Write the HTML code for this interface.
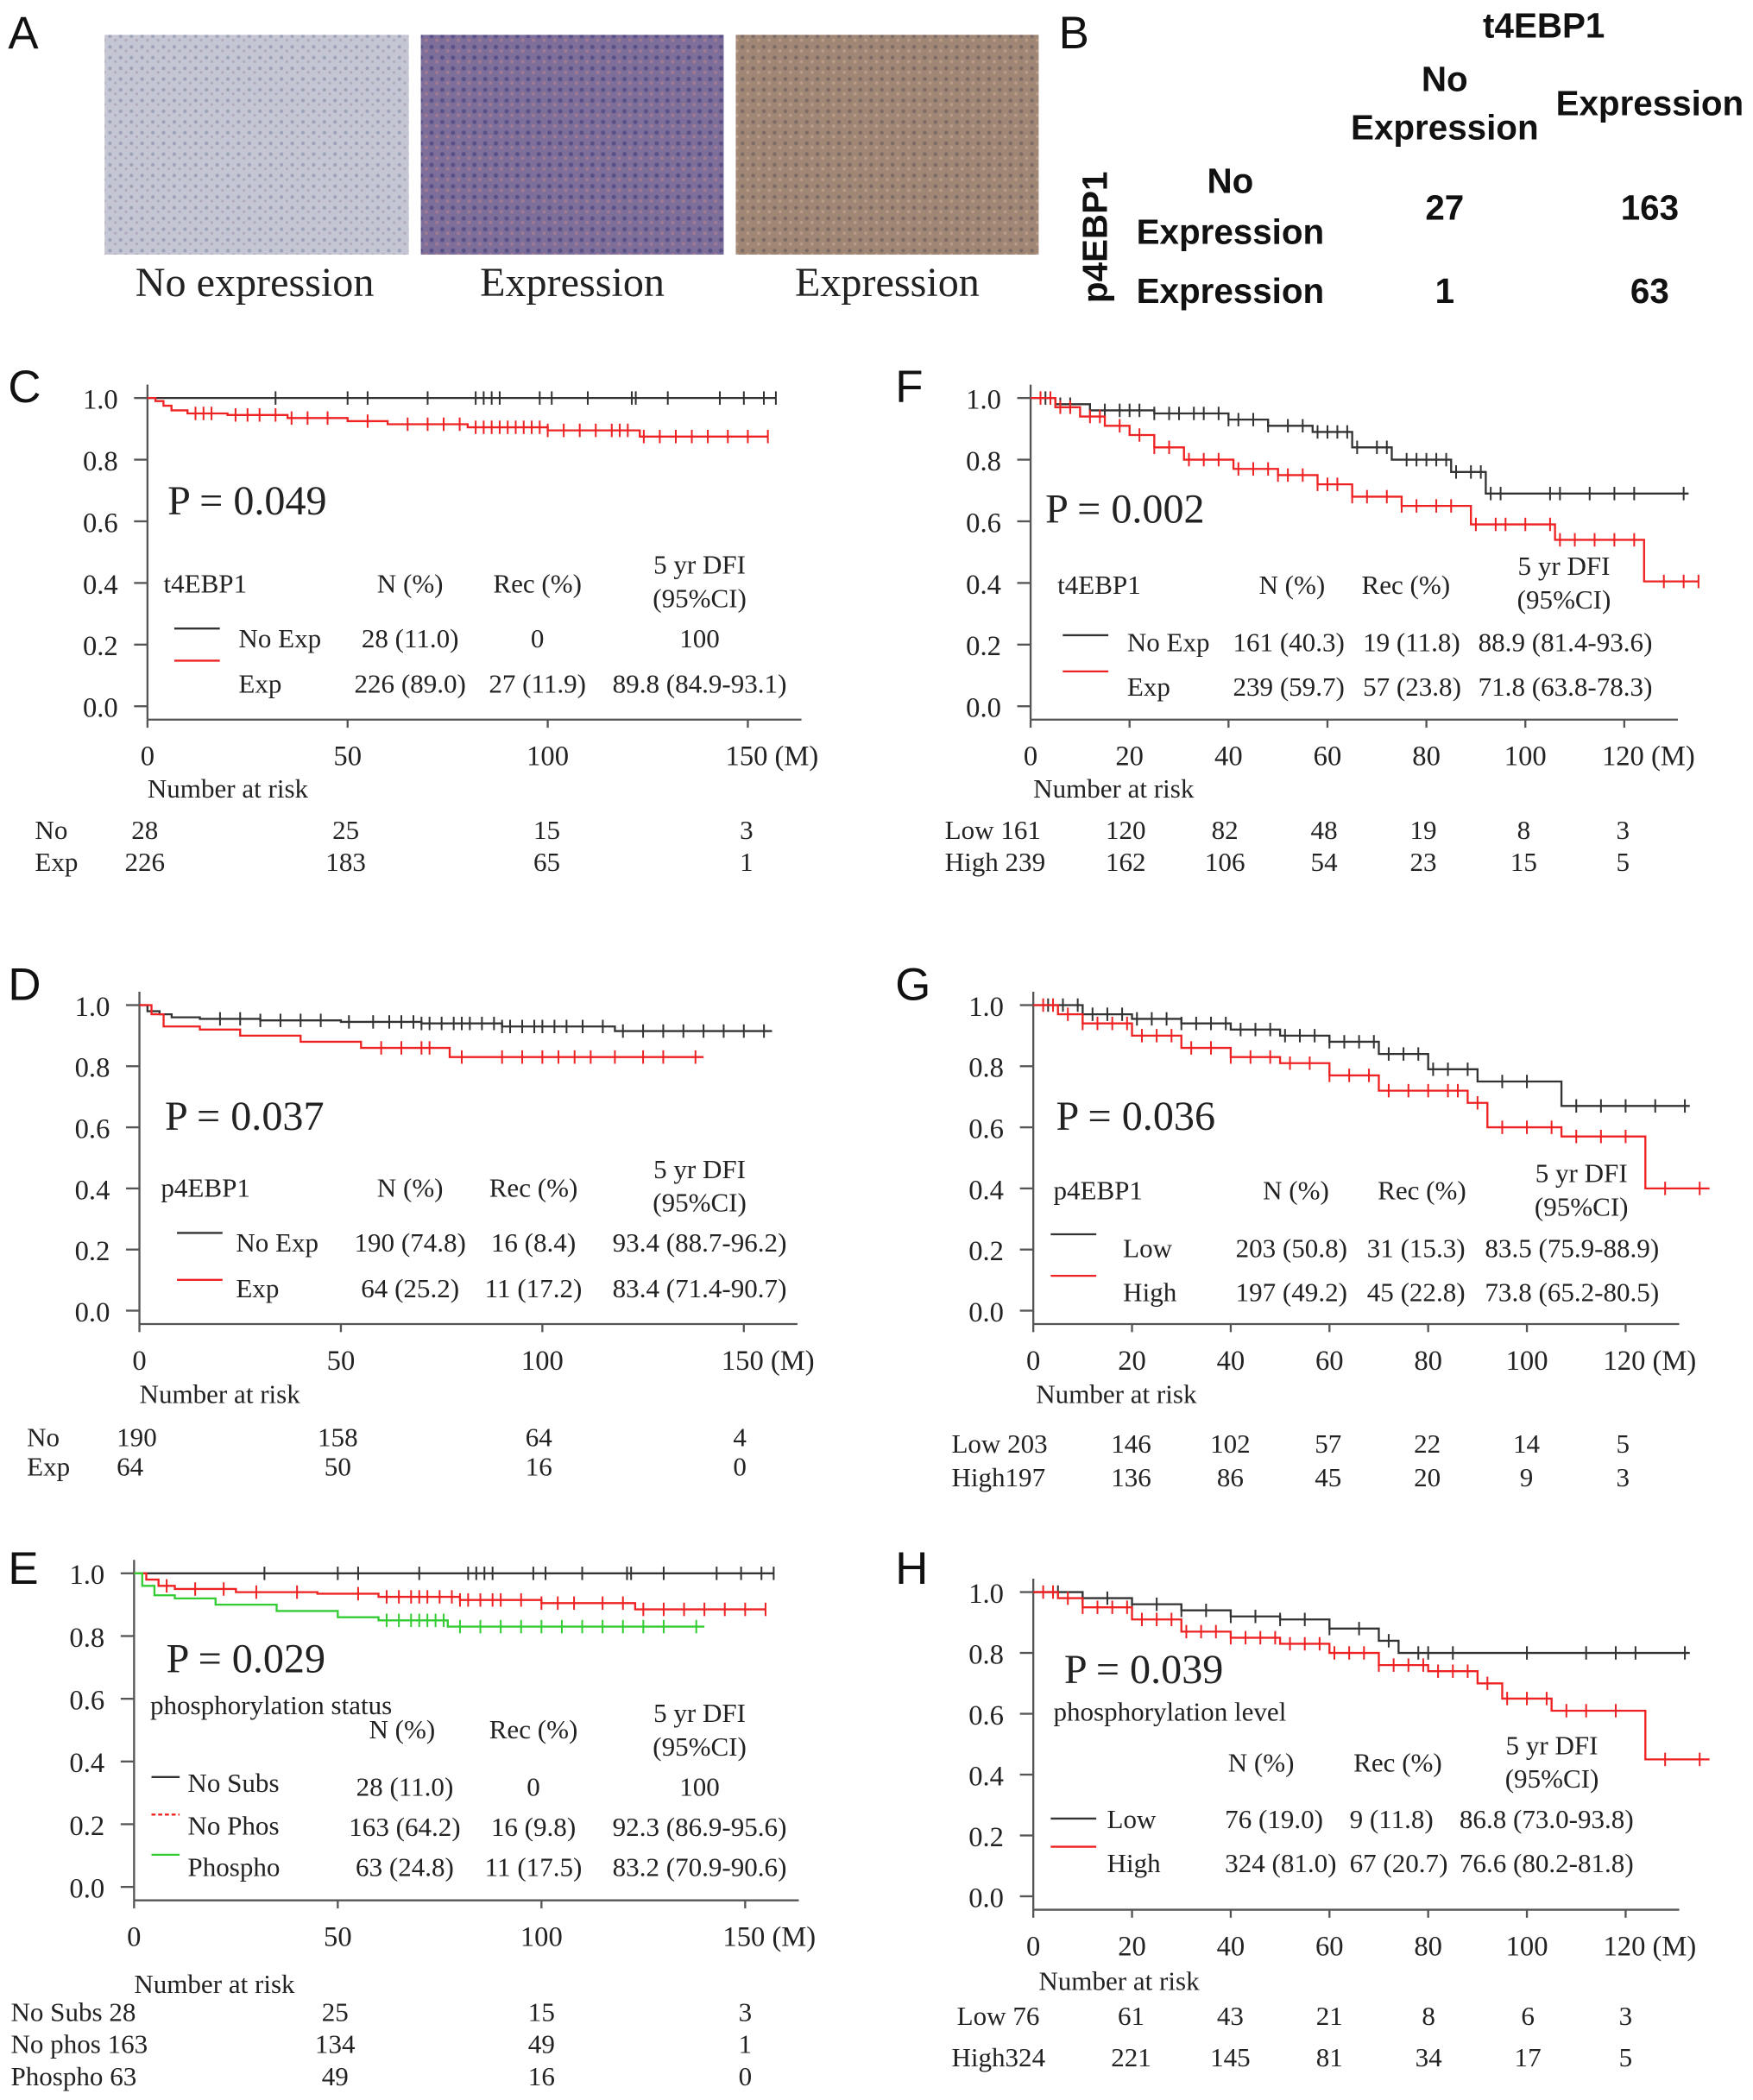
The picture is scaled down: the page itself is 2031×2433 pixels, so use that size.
<!DOCTYPE html>
<html><head><meta charset="utf-8"><style>
html,body{margin:0;padding:0;background:#fff}
svg{display:block}
.t{font-family:"Liberation Serif",serif;fill:#222}
.s{font-family:"Liberation Sans",sans-serif;fill:#111}
</style></head><body>
<svg id="fig" width="2031" height="2433" viewBox="0 0 1308 1567" xmlns="http://www.w3.org/2000/svg">
<defs>
<pattern id="p1" width="8" height="8" patternUnits="userSpaceOnUse"><rect width="8" height="8" fill="#c4c6d3"/><circle cx="2" cy="3" r="1.3" fill="#9ea2b8"/><circle cx="6" cy="6" r="1" fill="#b0a8ba"/></pattern>
<pattern id="p2" width="8" height="8" patternUnits="userSpaceOnUse"><rect width="8" height="8" fill="#7d6f9a"/><circle cx="2" cy="3" r="1.6" fill="#5a5088"/><circle cx="6" cy="6" r="1.3" fill="#a07a92"/></pattern>
<pattern id="p3" width="8" height="8" patternUnits="userSpaceOnUse"><rect width="8" height="8" fill="#a08674"/><circle cx="2" cy="3" r="1.4" fill="#7c6a66"/><circle cx="6" cy="6" r="1.2" fill="#b89c88"/></pattern>
</defs>
<text class="s" x="6" y="36" font-size="34">A</text>
<rect x="78" y="26" width="227" height="164" fill="url(#p1)"/>
<rect x="314" y="26" width="226" height="164" fill="url(#p2)"/>
<rect x="549" y="26" width="226" height="164" fill="url(#p3)"/>
<text class="t" x="190" y="221" font-size="31" text-anchor="middle">No expression</text>
<text class="t" x="427" y="221" font-size="31" text-anchor="middle">Expression</text>
<text class="t" x="662" y="221" font-size="31" text-anchor="middle">Expression</text>
<g font-weight="bold">
<text class="s" x="790" y="36" font-size="34" font-weight="normal">B</text>
<text class="s" x="1152" y="28" font-size="26" text-anchor="middle">t4EBP1</text>
<text class="s" x="1078" y="68" font-size="26" text-anchor="middle">No</text>
<text class="s" x="1078" y="104" font-size="26" text-anchor="middle">Expression</text>
<text class="s" x="1231" y="86" font-size="26" text-anchor="middle">Expression</text>
<text class="s" x="918" y="144" font-size="26" text-anchor="middle">No</text>
<text class="s" x="918" y="182" font-size="26" text-anchor="middle">Expression</text>
<text class="s" x="918" y="226" font-size="26" text-anchor="middle">Expression</text>
<text class="s" x="1078" y="164" font-size="26" text-anchor="middle">27</text>
<text class="s" x="1231" y="164" font-size="26" text-anchor="middle">163</text>
<text class="s" x="1078" y="226" font-size="26" text-anchor="middle">1</text>
<text class="s" x="1231" y="226" font-size="26" text-anchor="middle">63</text>
<text class="s" x="0" y="0" font-size="26" text-anchor="middle" transform="translate(826,177) rotate(-90)">p4EBP1</text>
</g>
<g id="charts"></g>
</svg>
<script>
const cBlackT=[0,157], cBlackS=[1,1];
const cBlackCens=[32,50,55,70,82,84,86,88,98,101,110,121,122,130,143,149,154,157];
const cRedT=[0,2,4,6,10,20,35,50,60,80,100,123,155], cRedS=[1,0.99,0.975,0.96,0.95,0.945,0.935,0.925,0.915,0.905,0.895,0.875,0.875];
const cRedCens=[12,14,16,22,25,28,32,36,40,45,55,65,70,74,78,82,84,86,88,90,92,94,96,98,100,104,108,112,116,118,120,124,128,132,136,140,145,150,155];
const dBlackT=[0,2,5,8,15,30,50,70,90,118,157], dBlackS=[1,0.98,0.97,0.96,0.955,0.95,0.945,0.94,0.93,0.915,0.915];
const dBlackCens=[20,25,30,35,40,45,52,58,62,65,68,70,72,75,78,80,82,85,88,90,92,95,98,100,103,106,110,115,120,125,130,135,140,145,150,155];
const dRedT=[0,3,6,15,25,40,55,77,140], dRedS=[1,0.97,0.93,0.92,0.9,0.88,0.86,0.83,0.83];
const dRedCens=[60,65,70,72,80,90,95,100,104,108,112,118,125,130,138];
const eBlackT=[0,157], eBlackS=[1,1];
const eBlackCens=[32,50,55,70,82,84,86,88,98,101,110,121,122,130,143,149,154,157];
const eRedT=[0,3,6,10,25,45,60,80,100,123,155], eRedS=[1,0.98,0.96,0.95,0.94,0.935,0.925,0.915,0.905,0.885,0.885];
const eRedCens=[8,15,22,30,40,55,62,65,68,70,72,75,78,80,82,85,88,90,95,100,104,108,115,120,125,130,135,140,145,150,155];
const eGreenT=[0,2,5,10,20,35,50,60,77,140], eGreenS=[1,0.96,0.93,0.92,0.9,0.88,0.86,0.85,0.83,0.83];
const eGreenCens=[62,65,68,70,72,74,76,80,85,90,95,100,105,110,115,120,125,130,138];
const fBlackT=[0,5,12,25,40,48,57,65,73,85,92,133], fBlackS=[1,0.98,0.96,0.95,0.93,0.91,0.89,0.84,0.80,0.76,0.69,0.69];
const fBlackCens=[3,6,8,12,15,18,20,22,25,28,30,33,35,38,40,42,45,48,52,55,58,60,62,64,66,70,72,76,78,80,82,84,86,89,91,93,95,105,107,113,118,122,132];
const fRedT=[0,5,10,15,20,25,31,41,50,58,65,75,89,106,124,135], fRedS=[1,0.97,0.94,0.91,0.88,0.84,0.80,0.77,0.75,0.72,0.68,0.65,0.59,0.54,0.405,0.405];
const fRedCens=[2,4,6,8,12,14,18,22,25,28,32,35,38,42,45,48,50,52,55,58,60,62,65,68,72,75,78,82,85,90,94,96,100,105,107,110,114,118,122,128,132,135];
const gBlackT=[0,10,20,30,40,50,60,70,80,90,107,133], gBlackS=[1,0.97,0.955,0.94,0.92,0.9,0.88,0.84,0.79,0.75,0.67,0.67];
const gBlackCens=[3,6,9,12,15,18,21,24,27,30,33,36,39,42,45,48,51,54,57,60,63,66,69,72,75,78,81,84,88,95,100,110,115,120,126,132];
const gRedT=[0,5,10,20,30,40,50,60,70,88,92,107,124,137], gRedS=[1,0.97,0.94,0.9,0.86,0.83,0.81,0.77,0.72,0.68,0.6,0.57,0.4,0.4];
const gRedCens=[2,4,7,10,13,16,19,22,25,28,32,36,40,44,48,52,56,60,64,68,72,76,80,84,86,90,95,100,105,110,115,120,128,135];
const hBlackT=[0,10,20,30,40,50,60,70,74,133], hBlackS=[1,0.98,0.96,0.94,0.92,0.91,0.88,0.84,0.8,0.8];
const hBlackCens=[5,10,15,20,25,30,35,40,45,50,55,60,66,72,78,80,85,100,112,118,122,132];
const hRedT=[0,5,10,20,30,40,50,60,70,80,90,95,105,124,137], hRedS=[1,0.98,0.95,0.91,0.87,0.85,0.83,0.8,0.76,0.74,0.7,0.65,0.61,0.45,0.45];
const hRedCens=[2,4,7,10,13,16,19,22,25,28,31,34,37,40,43,46,49,52,55,58,61,64,67,70,73,76,79,82,85,88,92,96,100,104,108,112,118,128,135];
const xTicksMonths150=[0,50,100,150], xTicksMonths120=[0,20,40,60,80,100,120];
const yTicks=[0,0.2,0.4,0.6,0.8,1.0];
const NS="http://www.w3.org/2000/svg";
const root=document.getElementById('charts');
function mk(tag,attrs,parent){const e=document.createElementNS(NS,tag);for(const k in attrs)e.setAttribute(k,attrs[k]);(parent||root).appendChild(e);return e;}
function txt(s,x,y,size,anchor,parent){const e=mk('text',{x:x,y:y,'font-size':size,'text-anchor':anchor||'start','class':'t'},parent);e.textContent=s;return e;}
function surv(T,S,t){let v=S[0];for(let i=0;i<T.length;i++){if(T[i]<=t)v=S[i];}return v;}
function panel(cfg){
  const g=mk('g',{});
  
  
  const X=t=>cfg.x0+t*(cfg.x1-cfg.x0)/cfg.xmax;
  const Y=s=>cfg.y0+(1-s)*(cfg.y1-cfg.y0);
  const lab=mk('text',{x:cfg.lx,y:cfg.ly,'font-size':34,'class':'s'},g);lab.textContent=cfg.id.toUpperCase();
  
  
  const ax=mk('g',{},g);
  
  
  mk('line',{x1:cfg.x0,y1:Y(1)-10,x2:cfg.x0,y2:Y(0)+10,stroke:'#555','stroke-width':1.5},ax);
  yTicks.forEach(v=>{mk('line',{x1:cfg.x0-10,y1:Y(v),x2:cfg.x0,y2:Y(v),stroke:'#555','stroke-width':1.5},ax);
    txt(v.toFixed(1),cfg.x0-22,Y(v)+8,21,'end',ax);});
  const xa=mk('g',{},g);
  
  
  const ya=Y(0)+10;
  mk('line',{x1:cfg.x0,y1:ya,x2:cfg.x1+40,y2:ya,stroke:'#555','stroke-width':1.5},xa);
  cfg.ticks.forEach((v,i)=>{mk('line',{x1:X(v),y1:ya,x2:X(v),y2:ya+6,stroke:'#555','stroke-width':1.5},xa);
    txt(i==cfg.ticks.length-1?v+' (M)':String(v),X(v)+(i==cfg.ticks.length-1?18:0),ya+34,21,'middle',xa);});
  cfg.series.forEach(sr=>{
    const sg=mk('g',{},g);
    
    
    let d='M'+X(sr.T[0])+','+Y(sr.S[0]);
    for(let i=1;i<sr.T.length;i++){d+=' H'+X(sr.T[i])+' V'+Y(sr.S[i]);}
    mk('path',{d:d,fill:'none',stroke:sr.c,'stroke-width':1.5},sg);
    sr.C.forEach(t=>{const yy=Y(surv(sr.T,sr.S,t));
      const m=mk('line',{x1:X(t),y1:yy-5,x2:X(t),y2:yy+5,stroke:sr.c,'stroke-width':1.3},sg);
      
      });
  });
  const pt=txt(cfg.p,cfg.px,cfg.py,31,'start',g);
  
  
  const tb=mk('g',{},g);
  
  
  cfg.table.forEach(r=>txt(r[0],r[1],r[2],20,r[3]||'start',tb));
  (cfg.legendLines||[]).forEach(l=>mk('line',{x1:l[0],y1:l[1],x2:l[0]+(l[4]||34),y2:l[1],stroke:l[2],'stroke-width':1.5,'stroke-dasharray':l[3]||''},tb));
  const rk=mk('g',{},g);
  
  
  cfg.risk.forEach(r=>txt(r[0],r[1],r[2],20,r[3]||'middle',rk));
}
const B='#333', R='#ee2222', G='#33cc33';
panel({id:'c',lx:6,ly:300,x0:110,x1:558,xmax:150,y0:297,y1:527,ticks:xTicksMonths150,p:'P = 0.049',px:125,py:384,
 series:[{name:'no-exp',T:cBlackT,S:cBlackS,C:cBlackCens,c:B},{name:'exp',T:cRedT,S:cRedS,C:cRedCens,c:R}],
 legendLines:[[130,469,B],[130,493,R]],
 table:[['t4EBP1',122,442],['N (%)',306,442,'middle'],['Rec (%)',401,442,'middle'],['5 yr DFI',522,428,'middle'],['(95%CI)',522,453,'middle'],
  ['No Exp',178,483],['28 (11.0)',306,483,'middle'],['0',401,483,'middle'],['100',522,483,'middle'],
  ['Exp',178,517],['226 (89.0)',306,517,'middle'],['27 (11.9)',401,517,'middle'],['89.8 (84.9-93.1)',522,517,'middle']],
 risk:[['Number at risk',110,595,'start'],['No',26,626,'start'],['Exp',26,650,'start'],['28',108,626],['25',258,626],['15',408,626],['3',557,626],['226',108,650],['183',258,650],['65',408,650],['1',557,650]]});
panel({id:'d',lx:6,ly:746,x0:104,x1:555,xmax:150,y0:750,y1:978,ticks:xTicksMonths150,p:'P = 0.037',px:123,py:843,
 series:[{name:'no-exp',T:dBlackT,S:dBlackS,C:dBlackCens,c:B},{name:'exp',T:dRedT,S:dRedS,C:dRedCens,c:R}],
 legendLines:[[132,920,B],[132,955,R]],
 table:[['p4EBP1',120,893],['N (%)',306,893,'middle'],['Rec (%)',398,893,'middle'],['5 yr DFI',522,879,'middle'],['(95%CI)',522,904,'middle'],
  ['No Exp',176,934],['190 (74.8)',306,934,'middle'],['16 (8.4)',398,934,'middle'],['93.4 (88.7-96.2)',522,934,'middle'],
  ['Exp',176,968],['64 (25.2)',306,968,'middle'],['11 (17.2)',398,968,'middle'],['83.4 (71.4-90.7)',522,968,'middle']],
 risk:[['Number at risk',104,1047,'start'],['No',20,1079,'start'],['Exp',20,1101,'start'],['190',102,1079],['158',252,1079],['64',402,1079],['4',552,1079],['64',97,1101],['50',252,1101],['16',402,1101],['0',552,1101]]});
panel({id:'e',lx:6,ly:1182,x0:100,x1:556,xmax:150,y0:1174,y1:1408,ticks:xTicksMonths150,p:'P = 0.029',px:124,py:1248,
 series:[{name:'no-subs',T:eBlackT,S:eBlackS,C:eBlackCens,c:B},{name:'no-phos',T:eRedT,S:eRedS,C:eRedCens,c:R},{name:'phospho',T:eGreenT,S:eGreenS,C:eGreenCens,c:G}],
 legendLines:[[113,1326,B,'',21],[113,1354,R,'3,2',21],[113,1384,G,'',21]],
 table:[['phosphorylation status',112,1279],['N (%)',300,1297,'middle'],['Rec (%)',398,1297,'middle'],['5 yr DFI',522,1285,'middle'],['(95%CI)',522,1310,'middle'],
  ['No Subs',140,1337],['28 (11.0)',302,1340,'middle'],['0',398,1340,'middle'],['100',522,1340,'middle'],
  ['No Phos',140,1369],['163 (64.2)',302,1370,'middle'],['16 (9.8)',398,1370,'middle'],['92.3 (86.9-95.6)',522,1370,'middle'],
  ['Phospho',140,1400],['63 (24.8)',302,1400,'middle'],['11 (17.5)',398,1400,'middle'],['83.2 (70.9-90.6)',522,1400,'middle']],
 risk:[['Number at risk',100,1487,'start'],['No Subs 28',8,1508,'start'],['No phos 163',8,1532,'start'],['Phospho 63',8,1556,'start'],
  ['25',250,1508],['15',404,1508],['3',556,1508],['134',250,1532],['49',404,1532],['1',556,1532],['49',250,1556],['16',404,1556],['0',556,1556]]});
panel({id:'f',lx:668,ly:300,x0:769,x1:1212,xmax:120,y0:297,y1:527,ticks:xTicksMonths120,p:'P = 0.002',px:780,py:390,
 series:[{name:'no-exp',T:fBlackT,S:fBlackS,C:fBlackCens,c:B},{name:'exp',T:fRedT,S:fRedS,C:fRedCens,c:R}],
 legendLines:[[793,474,B],[793,501,R]],
 table:[['t4EBP1',789,443],['N (%)',964,443,'middle'],['Rec (%)',1049,443,'middle'],['5 yr DFI',1167,429,'middle'],['(95%CI)',1167,454,'middle'],
  ['No Exp',841,486],['161 (40.3)',920,486],['19 (11.8)',1017,486],['88.9 (81.4-93.6)',1103,486],
  ['Exp',841,519],['239 (59.7)',920,519],['57 (23.8)',1017,519],['71.8 (63.8-78.3)',1103,519]],
 risk:[['Number at risk',771,595,'start'],['Low 161',705,626,'start'],['High 239',705,650,'start'],
  ['120',840,626],['82',914,626],['48',988,626],['19',1062,626],['8',1137,626],['3',1211,626],['162',840,650],['106',914,650],['54',988,650],['23',1062,650],['15',1137,650],['5',1211,650]]});
panel({id:'g',lx:668,ly:746,x0:771,x1:1213,xmax:120,y0:750,y1:978,ticks:xTicksMonths120,p:'P = 0.036',px:788,py:843,
 series:[{name:'low',T:gBlackT,S:gBlackS,C:gBlackCens,c:B},{name:'high',T:gRedT,S:gRedS,C:gRedCens,c:R}],
 legendLines:[[784,921,B],[784,952,R]],
 table:[['p4EBP1',786,895],['N (%)',967,895,'middle'],['Rec (%)',1061,895,'middle'],['5 yr DFI',1180,882,'middle'],['(95%CI)',1180,907,'middle'],
  ['Low',838,938],['203 (50.8)',922,938],['31 (15.3)',1020,938],['83.5 (75.9-88.9)',1108,938],
  ['High',838,971],['197 (49.2)',922,971],['45 (22.8)',1020,971],['73.8 (65.2-80.5)',1108,971]],
 risk:[['Number at risk',773,1047,'start'],['Low 203',710,1084,'start'],['High197',710,1109,'start'],
  ['146',844,1084],['102',918,1084],['57',991,1084],['22',1065,1084],['14',1139,1084],['5',1211,1084],['136',844,1109],['86',918,1109],['45',991,1109],['20',1065,1109],['9',1139,1109],['3',1211,1109]]});
panel({id:'h',lx:668,ly:1182,x0:771,x1:1213,xmax:120,y0:1188,y1:1415,ticks:xTicksMonths120,p:'P = 0.039',px:794,py:1256,
 series:[{name:'low',T:hBlackT,S:hBlackS,C:hBlackCens,c:B},{name:'high',T:hRedT,S:hRedS,C:hRedCens,c:R}],
 legendLines:[[784,1357,B],[784,1378,R]],
 table:[['phosphorylation level',786,1284],['N (%)',941,1322,'middle'],['Rec (%)',1043,1322,'middle'],['5 yr DFI',1158,1309,'middle'],['(95%CI)',1158,1334,'middle'],
  ['Low',826,1364],['76 (19.0)',914,1364],['9 (11.8)',1007,1364],['86.8 (73.0-93.8)',1089,1364],
  ['High',826,1397],['324 (81.0)',914,1397],['67 (20.7)',1007,1397],['76.6 (80.2-81.8)',1089,1397]],
 risk:[['Number at risk',775,1485,'start'],['Low 76',714,1511,'start'],['High324',710,1542,'start'],
  ['61',844,1511],['43',918,1511],['21',992,1511],['8',1066,1511],['6',1140,1511],['3',1213,1511],['221',844,1542],['145',918,1542],['81',992,1542],['34',1066,1542],['17',1140,1542],['5',1213,1542]]});
</script>
</body></html>
